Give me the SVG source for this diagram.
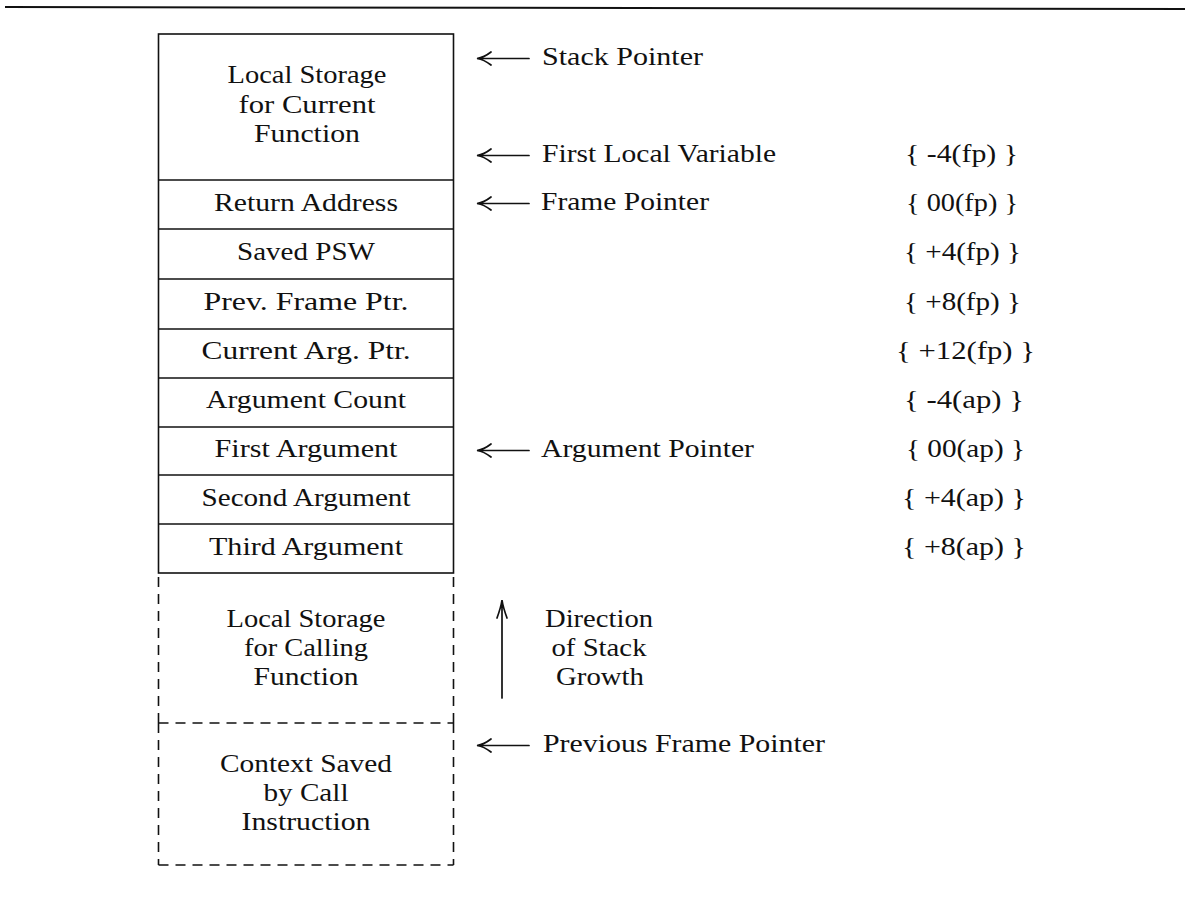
<svg xmlns="http://www.w3.org/2000/svg" width="1185" height="898" viewBox="0 0 1185 898">
<style>
text{font-family:"Liberation Serif","Times New Roman",serif;font-size:26px;fill:#111}
.c{text-anchor:middle}
.s{text-anchor:start}
.ln{stroke:#111;stroke-width:1.6;fill:none}
.ds{stroke:#111;stroke-width:1.6;fill:none;stroke-dasharray:10 7}
.ar{stroke:#111;stroke-width:1.7;fill:none;stroke-linecap:round}
</style>
<rect width="1185" height="898" fill="#fff"/>
<line x1="5" y1="7" x2="1185" y2="9" stroke="#111" stroke-width="2"/>

<g id="frame-box">
<rect class="ln" x="158.5" y="34" width="295" height="539"/>
<line class="ln" x1="158.5" y1="180" x2="453.5" y2="180"/>
<line class="ln" x1="158.5" y1="229" x2="453.5" y2="229"/>
<line class="ln" x1="158.5" y1="279" x2="453.5" y2="279"/>
<line class="ln" x1="158.5" y1="329" x2="453.5" y2="329"/>
<line class="ln" x1="158.5" y1="378" x2="453.5" y2="378"/>
<line class="ln" x1="158.5" y1="427" x2="453.5" y2="427"/>
<line class="ln" x1="158.5" y1="475" x2="453.5" y2="475"/>
<line class="ln" x1="158.5" y1="524" x2="453.5" y2="524"/>
</g>
<g id="local-current">
<text class="c" x="307" y="83" textLength="159" lengthAdjust="spacingAndGlyphs">Local Storage</text>
<text class="c" x="307" y="113" textLength="137" lengthAdjust="spacingAndGlyphs">for Current</text>
<text class="c" x="307" y="142" textLength="106" lengthAdjust="spacingAndGlyphs">Function</text>
</g>
<g id="return-address"><text class="c" x="306" y="211" textLength="184" lengthAdjust="spacingAndGlyphs">Return Address</text></g>
<g id="saved-psw"><text class="c" x="306" y="260" textLength="138" lengthAdjust="spacingAndGlyphs">Saved PSW</text></g>
<g id="prev-frame-ptr"><text class="c" x="306" y="310" textLength="205" lengthAdjust="spacingAndGlyphs">Prev. Frame Ptr.</text></g>
<g id="current-arg-ptr"><text class="c" x="306" y="359" textLength="209" lengthAdjust="spacingAndGlyphs">Current Arg. Ptr.</text></g>
<g id="argument-count"><text class="c" x="306" y="408" textLength="200" lengthAdjust="spacingAndGlyphs">Argument Count</text></g>
<g id="first-argument"><text class="c" x="306" y="457" textLength="183" lengthAdjust="spacingAndGlyphs">First Argument</text></g>
<g id="second-argument"><text class="c" x="306" y="506" textLength="209" lengthAdjust="spacingAndGlyphs">Second Argument</text></g>
<g id="third-argument"><text class="c" x="306" y="555" textLength="194" lengthAdjust="spacingAndGlyphs">Third Argument</text></g>

<g id="local-calling">
<path class="ds" d="M158.5 723 V573 M453.5 723 V573"/>
<text class="c" x="306" y="627" textLength="159" lengthAdjust="spacingAndGlyphs">Local Storage</text>
<text class="c" x="306" y="656" textLength="124" lengthAdjust="spacingAndGlyphs">for Calling</text>
<text class="c" x="306" y="685" textLength="105" lengthAdjust="spacingAndGlyphs">Function</text>
</g>
<g id="context-saved">
<path class="ds" d="M158.5 723 H453.5 M158.5 723 V865 M453.5 723 V865 M158.5 865 H453.5"/>
<text class="c" x="306" y="772" textLength="172" lengthAdjust="spacingAndGlyphs">Context Saved</text>
<text class="c" x="306" y="801" textLength="85" lengthAdjust="spacingAndGlyphs">by Call</text>
<text class="c" x="306" y="830" textLength="129" lengthAdjust="spacingAndGlyphs">Instruction</text>
</g>

<g id="pointer-labels">
<text class="s" x="542" y="65" textLength="161" lengthAdjust="spacingAndGlyphs">Stack Pointer</text>
<text class="s" x="542" y="162" textLength="234" lengthAdjust="spacingAndGlyphs">First Local Variable</text>
<text class="s" x="541" y="210" textLength="168" lengthAdjust="spacingAndGlyphs">Frame Pointer</text>
<text class="s" x="541" y="457" textLength="213" lengthAdjust="spacingAndGlyphs">Argument Pointer</text>
<text class="s" x="543" y="752" textLength="282" lengthAdjust="spacingAndGlyphs">Previous Frame Pointer</text>
</g>
<g id="growth-label">
<text class="c" x="599" y="627" textLength="108" lengthAdjust="spacingAndGlyphs">Direction</text>
<text class="c" x="599" y="656" textLength="95" lengthAdjust="spacingAndGlyphs">of Stack</text>
<text class="c" x="600" y="685" textLength="88" lengthAdjust="spacingAndGlyphs">Growth</text>
</g>

<g id="offsets" xml:space="preserve">
<text class="s" x="905" y="162" textLength="113" lengthAdjust="spacingAndGlyphs">{  -4(fp)  }</text>
<text class="s" x="906" y="211" textLength="112" lengthAdjust="spacingAndGlyphs">{  00(fp)  }</text>
<text class="s" x="904" y="260" textLength="117" lengthAdjust="spacingAndGlyphs">{  +4(fp)  }</text>
<text class="s" x="904" y="310" textLength="117" lengthAdjust="spacingAndGlyphs">{  +8(fp)  }</text>
<text class="s" x="896" y="359" textLength="139" lengthAdjust="spacingAndGlyphs">{  +12(fp)  }</text>
<text class="s" x="904" y="408" textLength="120" lengthAdjust="spacingAndGlyphs">{  -4(ap)  }</text>
<text class="s" x="906" y="457" textLength="119" lengthAdjust="spacingAndGlyphs">{  00(ap)  }</text>
<text class="s" x="902" y="506" textLength="124" lengthAdjust="spacingAndGlyphs">{  +4(ap)  }</text>
<text class="s" x="902" y="555" textLength="124" lengthAdjust="spacingAndGlyphs">{  +8(ap)  }</text>
</g>

<g id="connectors">
<path class="ar" d="M478 58.5 H529 M491 52 Q484 57.5 477 58.5 Q484 59.5 491 65"/>
<path class="ar" d="M478 155.5 H529 M491 149 Q484 154.5 477 155.5 Q484 156.5 491 162"/>
<path class="ar" d="M478 203.5 H529 M491 197 Q484 202.5 477 203.5 Q484 204.5 491 210"/>
<path class="ar" d="M478 450.5 H529 M491 444 Q484 449.5 477 450.5 Q484 451.5 491 457"/>
<path class="ar" d="M478 745.5 H529 M491 739 Q484 744.5 477 745.5 Q484 746.5 491 752"/>
<path class="ar" d="M502 698 V601 M497 618 Q501 607 502 600 Q503 607 507 618"/>
</g>
</svg>
